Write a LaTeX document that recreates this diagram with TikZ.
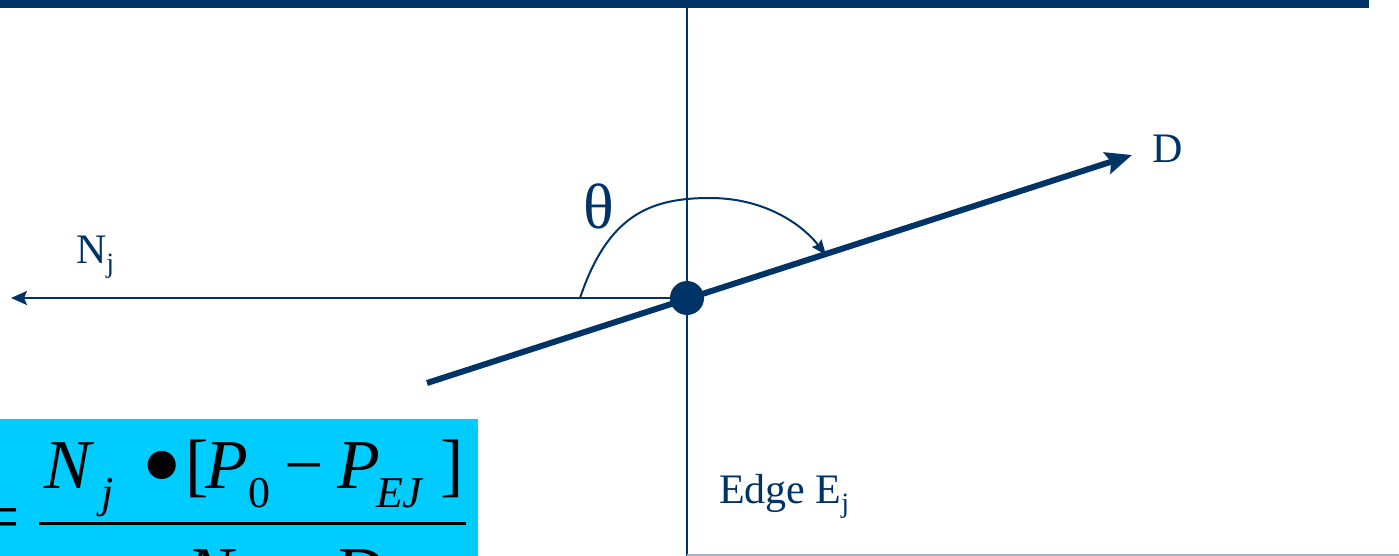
\documentclass[tikz,border=0pt]{standalone}
\usepackage{fontspec}
\setmainfont{Liberation Serif}
\usetikzlibrary{arrows.meta}
\definecolor{navy}{RGB}{0,51,102}
\definecolor{cyanbox}{RGB}{0,204,255}
\definecolor{rule}{RGB}{160,176,200}
\tikzset{
  lbl/.style={inner sep=0pt, outer sep=0pt, anchor=base west, text=navy, font=\fontsize{42}{48}\selectfont},
  big/.style={inner sep=0pt, outer sep=0pt, anchor=base west, text=black, font=\fontsize{70}{80}\selectfont},
  sub/.style={inner sep=0pt, outer sep=0pt, anchor=base west, text=black, font=\fontsize{44}{50}\selectfont},
  thin/.style={draw=navy, line width=2pt},
}
\begin{document}
\begin{tikzpicture}[x=1pt,y=-1pt]
\useasboundingbox (0,0) rectangle (1399,556);
% top bar
\fill[navy] (0,0) rectangle (1369,8);
% formula box
\fill[cyanbox] (0,419) rectangle (478,556);
\begin{scope}
\clip (0,419) rectangle (478,556);
\node[big, anchor=base east] (eq) at (20,540) {=};
\node[big] (n1) at (44,488) {\itshape N};
\node[sub] (n2) at (101,507) {\itshape j};
\node[big, font=\fontsize{118}{130}\selectfont] (n3) at (141,504) {•};
\node[big] (n4) at (185,488) {[};
\node[big] (n5) at (205,488) {\itshape P};
\node[sub] (n6) at (248,507) {0};
\node[big] (n7) at (284,488) {−};
\node[big] (n8) at (337,488) {\itshape P};
\node[sub] (n9) at (376,507) {\itshape EJ};
\node[big] (n10) at (440,488) {]};
\coordinate (barL) at (39,523);
\coordinate (barR) at (466,523);
\draw[line width=3pt, black] (barL) -- (barR);
\node[big] (d1) at (186,595) {\itshape N};
\node[sub] (d2) at (243,614) {\itshape j};
\node[big] (d3) at (282,600) {•};
\node[big] (d4) at (333,595) {\itshape D};
\end{scope}
% edge line
\coordinate (etop) at (687,8);
\coordinate (ebot) at (687,556);
\draw[thin] (etop) -- (ebot);
\coordinate (rl) at (687,555);
\coordinate (rr) at (1399,555);
\draw[rule, line width=1.5pt] (rl) -- (rr);
% point
\coordinate (P) at (687,298);
% normal
\coordinate (Nend) at (11,298);
\draw[thin, -{Stealth[length=16pt,width=14pt,inset=3pt]}] (P) -- (Nend);
% direction D
\coordinate (Dstart) at (427,383);
\coordinate (Dend) at (1132,155);
\draw[navy, line width=6pt, -{Stealth[length=26pt,width=22pt,inset=4pt]}] (Dstart) -- (Dend);
\fill[navy] (P) circle (17);
% angle arc
\coordinate (a0) at (580,298);
\coordinate (a1) at (710,198);
\coordinate (a2) at (826,255);
\draw[thin, -{Stealth[length=15pt,width=12pt,inset=2pt]}] (a0) .. controls (608,215) and (650,198) .. (a1) .. controls (762,198) and (800,222) .. (a2);
% labels
\node[lbl, font=\fontsize{64}{70}\selectfont] (th) at (583,228) {θ};
\node[lbl] (nj) at (76,263) {N\raisebox{-9pt}{\fontsize{28}{30}\selectfont j}};
\node[lbl] (dl) at (1152,163) {D};
\node[lbl] (ej) at (719,503) {Edge E\raisebox{-9pt}{\fontsize{28}{30}\selectfont j}};
\end{tikzpicture}
\end{document}
